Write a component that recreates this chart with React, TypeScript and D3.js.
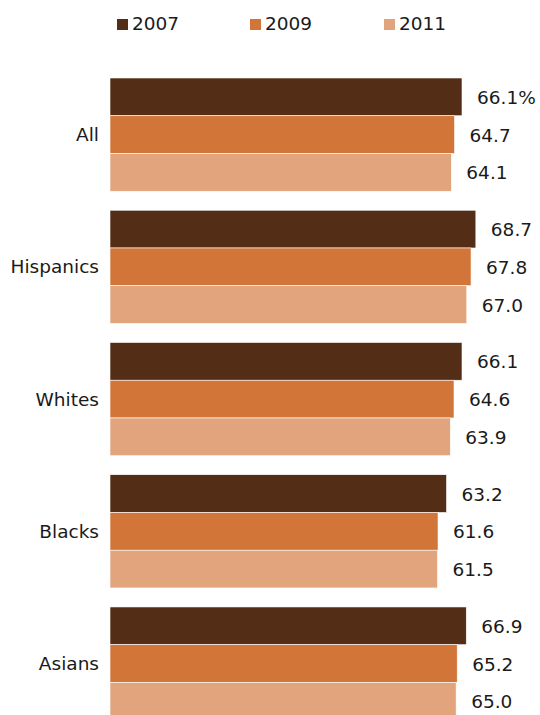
import React from "react";
import * as d3 from "d3";

const categories = ["All", "Hispanics", "Whites", "Blacks", "Asians"];
const years = ["2007", "2009", "2011"];
const values2007 = [66.1, 68.7, 66.1, 63.2, 66.9];
const values2009 = [64.7, 67.8, 64.6, 61.6, 65.2];
const values2011 = [64.1, 67.0, 63.9, 61.5, 65.0];
const colors = ["#532d15", "#d27539", "#e2a47c"];

const W = 540;
const H = 715;

export default function App() {
  const series = [values2007, values2009, values2011];
  const x = d3.scaleLinear().domain([0, 66.1]).range([110, 462]);
  const y = d3
    .scaleBand<string>()
    .domain(categories)
    .range([78, 78 + 4 * 132.25 + 113.2])
    .paddingInner(19 / 132.25)
    .paddingOuter(0);
  const inner = d3.scaleBand<string>().domain(years).range([0, y.bandwidth()]).padding(0);
  const font = "'DejaVu Sans', Verdana, sans-serif";
  const legendX = [117, 250, 384];
  const fs = 18.5;

  return (
    <svg
      width={W}
      height={H}
      style={{ position: "absolute", left: 0, top: 0, background: "#fff" }}
      fontFamily={font}
    >
      {years.map((yr, i) => (
        <g key={yr}>
          <rect x={legendX[i]} y={19} width={11} height={11} fill={colors[i]} />
          <text x={legendX[i] + 15} y={30} fontSize={fs} fill="#1a1a1a">
            {yr}
          </text>
        </g>
      ))}
      {categories.map((c, ci) => (
        <g key={c}>
          <text
            x={99}
            y={(y(c) as number) + y.bandwidth() / 2 + 6.5}
            fontSize={fs}
            textAnchor="end"
            fill="#1a1a1a"
          >
            {c}
          </text>
          {years.map((yr, si) => {
            const v = series[si][ci];
            const by = (y(c) as number) + (inner(yr) as number);
            const bh = inner.bandwidth();
            return (
              <g key={yr}>
                <rect
                  x={x(0)}
                  y={by}
                  width={x(v) - x(0)}
                  height={bh}
                  fill={colors[si]}
                  stroke="#fff"
                  strokeWidth={0.6}
                />
                <text
                  x={x(v) + 15}
                  y={by + bh / 2 + 7}
                  fontSize={fs}
                  fill="#1a1a1a"
                >
                  {v.toFixed(1) + (ci === 0 && si === 0 ? "%" : "")}
                </text>
              </g>
            );
          })}
        </g>
      ))}
    </svg>
  );
}
